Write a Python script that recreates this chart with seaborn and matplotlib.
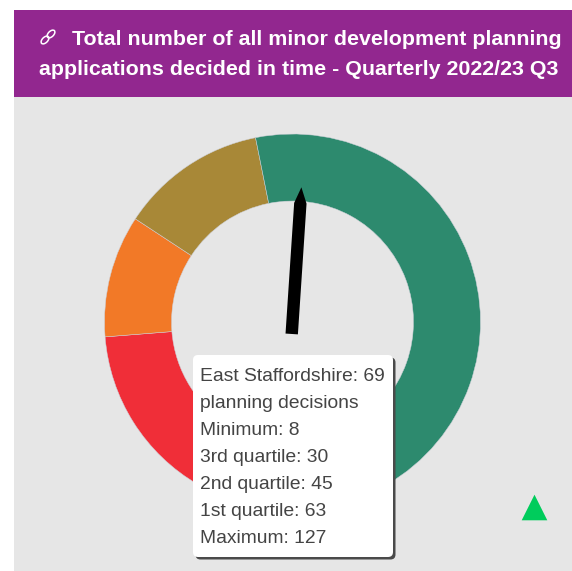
import numpy as np
import matplotlib
matplotlib.use("Agg")
import matplotlib.pyplot as plt
from matplotlib.patches import Rectangle, FancyBboxPatch, Ellipse, Polygon
import seaborn as sns

W, H = 572, 571
sns.set_theme(style="white")
plt.rcParams["font.family"] = ["Liberation Sans", "DejaVu Sans"]

title_lines = ["Total number of all minor development planning",
               "applications decided in time - Quarterly 2022/23 Q3"]
area_name = "East Staffordshire"
needle_value = 69
thresholds = [8, 30, 45, 63, 127]
threshold_labels = ["Minimum", "3rd quartile", "2nd quartile", "1st quartile", "Maximum"]
band_colors = ["#F02E38", "#F27927", "#A88837", "#2D8A6E"]

CX, CY, R_OUT, R_IN = 292.5, H - 322, 188, 121
SWEEP = 300.0
DEG_PER_UNIT = SWEEP / (thresholds[-1] - thresholds[0])


def value_angle(v):
    return (v - thresholds[0]) * DEG_PER_UNIT - SWEEP / 2  # clockwise from top


fig = plt.figure(figsize=(W / 100, H / 100), dpi=100, facecolor="white")
ax = fig.add_axes([0, 0, 1, 1])

sizes = list(np.diff(thresholds))
gap = 360 / DEG_PER_UNIT - sum(sizes)
wedges, _ = ax.pie(sizes + [gap], colors=band_colors + ["none"], radius=R_OUT,
                   center=(CX, CY), counterclock=False,
                   startangle=90 - value_angle(thresholds[0]), frame=True,
                   wedgeprops=dict(width=R_OUT - R_IN, edgecolor="#CDD0D8", linewidth=0.35, zorder=2))
wedges[-1].set_visible(False)
ax.set_xlim(0, W)
ax.set_ylim(0, H)
ax.set_aspect("equal")
ax.axis("off")

# panels
ax.add_patch(Rectangle((13.5, 0), W, H - 96.5, fc="#E6E6E6", ec="none", zorder=0))
ax.add_patch(Rectangle((13.5, H - 96.5), W, 87, fc="#92278F", ec="none", zorder=1))

# title
ax.text(72, H - 45, title_lines[0], color="white", fontsize=15.4, fontweight="bold",
        ha="left", va="baseline", zorder=5)
ax.text(39, H - 75, title_lines[1], color="white", fontsize=15.4, fontweight="bold",
        ha="left", va="baseline", zorder=5)
for dx in (-3, 3):
    ax.add_patch(Ellipse((48 + dx, H - 37 + dx), 9.5, 5.5, angle=45, fc="none",
                         ec="white", lw=1.1, zorder=5))

# needle, built from the value's angle
a = np.deg2rad(value_angle(needle_value))
along = np.array([np.sin(a), np.cos(a)])
side = np.array([np.cos(a), -np.sin(a)])
centre = np.array([CX, CY])
hw, back, shoulder, tip = 6.2, 12, 119, 135
pts = [centre + s * side + d * along for s, d in
       [(-hw, -back), (hw, -back), (hw, shoulder), (0, tip), (-hw, shoulder)]]
ax.add_patch(Polygon(pts, closed=True, fc="black", ec="none", zorder=4))

# trend marker
sns.scatterplot(x=[533.5], y=[H - 507], marker="^", s=340, color="#00CC5C",
                linewidth=0, ax=ax, zorder=4, legend=False)
ax.set_xlim(0, W)
ax.set_ylim(0, H)

# tooltip
bx, by, bw, bh = 193, H - 557, 200, 202
ax.add_patch(FancyBboxPatch((bx + 2.5, by - 2.5), bw, bh, boxstyle="round,pad=0,rounding_size=5",
                            fc="#4A4A4A", ec="none", zorder=6))
ax.add_patch(FancyBboxPatch((bx, by), bw, bh, boxstyle="round,pad=0,rounding_size=5",
                            fc="white", ec="none", zorder=7))
lines = [f"{area_name}: {needle_value}", "planning decisions"] + \
        [f"{n}: {v}" for n, v in zip(threshold_labels, thresholds)]
for i, t in enumerate(lines):
    ax.text(200, H - (381 + 27 * i) + 0.2, t, color="#444444", fontsize=13.85, ha="left",
            va="baseline", zorder=8)

fig.savefig("out.png", dpi=100, facecolor="white")
